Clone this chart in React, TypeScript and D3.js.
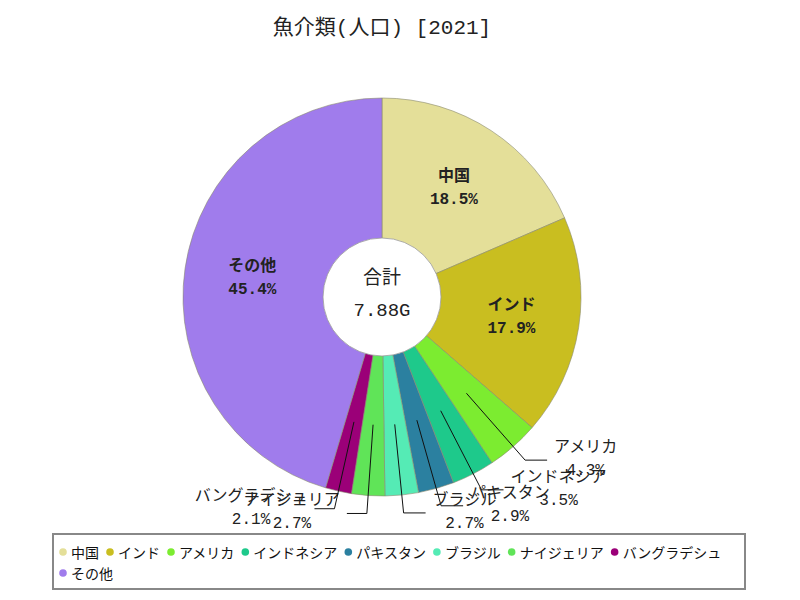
import React, { useEffect, useRef } from 'react';
import * as d3 from 'd3';

// 魚介類(人口) 2021 -- population in millions
const categories = ['中国', 'インド', 'アメリカ', 'インドネシア', 'パキスタン', 'ブラジル', 'ナイジェリア', 'バングラデシュ', 'その他'];
const populations = [1457, 1411, 337, 274, 229, 213, 212, 167, 3579];
const sliceColors = ['#e4df99', '#c9be20', '#7cec30', '#1ec98b', '#2b80a0', '#55ebb5', '#60e458', '#9b0078', '#a07cec'];
const titleText = '魚介類(人口) [2021]';
const totalLabel = '合計';

const W = 800;
const H = 600;
const cx = 382;
const cy = 297;
const outerR = 199;
const innerR = 59;

const monoJP = "'Liberation Mono', 'Noto Sans CJK JP', monospace";
const sansJP = "'Noto Sans CJK JP', sans-serif";

type Row = { name: string; value: number; color: string };

const rows: Row[] = categories.map((c, i) => ({ name: c, value: populations[i], color: sliceColors[i] }));

function pt(angle: number, r: number): [number, number] {
  return [r * Math.sin(angle), -r * Math.cos(angle)];
}

export default function App() {
  const ref = useRef<SVGSVGElement>(null);

  useEffect(() => {
    const svg = d3.select(ref.current);
    svg.selectAll('*').remove();

    const total = d3.sum(populations);
    const pct = (v: number) => d3.format('.1f')((v / total) * 100) + '%';

    // title
    svg.append('text')
      .attr('x', cx).attr('y', 28)
      .attr('text-anchor', 'middle').attr('dominant-baseline', 'central')
      .style('font-family', monoJP).style('font-size', '21px').attr('fill', '#222')
      .text(titleText);

    const pie = d3.pie<Row>().sort(null).value(d => d.value);
    const arcs = pie(rows);
    const arc = d3.arc<d3.PieArcDatum<Row>>().innerRadius(0).outerRadius(outerR);

    const g = svg.append('g').attr('transform', `translate(${cx},${cy})`);

    g.selectAll('path.slice')
      .data(arcs)
      .join('path')
      .attr('class', 'slice')
      .attr('d', arc)
      .attr('fill', d => d.data.color)
      .attr('stroke', '#8a8a70')
      .attr('stroke-width', 0.6);

    // labels
    arcs.forEach(a => {
      const mid = (a.startAngle + a.endAngle) / 2;
      const share = a.data.value / total;
      if (share >= 0.1) {
        const [x, y] = pt(mid, 131);
        const t = g.append('text')
          .attr('text-anchor', 'middle')
          .style('font-family', monoJP).style('font-size', '16px').style('font-weight', 'bold')
          .attr('fill', '#222');
        t.append('tspan').attr('x', x).attr('y', y - 11).attr('dominant-baseline', 'central').text(a.data.name);
        t.append('tspan').attr('x', x).attr('y', y + 12).attr('dominant-baseline', 'central').text(pct(a.data.value));
      } else {
        const [x0, y0] = pt(mid, 128);
        const [x1, y1] = pt(mid, 217);
        const right = mid < Math.PI;
        const x2 = x1 + (right ? 22 : -20);
        g.append('polyline')
          .attr('points', `${x0},${y0} ${x1},${y1} ${x2},${y1}`)
          .attr('fill', 'none').attr('stroke', '#111').attr('stroke-width', 1);
        const lab = g.append('g');
        const t1 = lab.append('text')
          .attr('text-anchor', 'middle').attr('dominant-baseline', 'central')
          .attr('y', y1 - 12)
          .style('font-family', monoJP).style('font-size', '16px').attr('fill', '#222')
          .text(a.data.name);
        const t2 = lab.append('text')
          .attr('text-anchor', 'middle').attr('dominant-baseline', 'central')
          .attr('y', y1 + 11)
          .style('font-family', monoJP).style('font-size', '16px').attr('fill', '#222')
          .text(pct(a.data.value));
        const w = Math.max((t1.node() as SVGTextElement).getComputedTextLength(), (t2.node() as SVGTextElement).getComputedTextLength());
        const tx = right ? x2 + 7 + w / 2 : x2 - 7 - w / 2;
        t1.attr('x', tx);
        t2.attr('x', tx);
      }
    });

    // hole
    g.append('circle').attr('r', innerR).attr('fill', '#fff').attr('stroke', '#999').attr('stroke-width', 0.8);
    g.append('text').attr('y', -18).attr('text-anchor', 'middle').attr('dominant-baseline', 'central')
      .style('font-family', monoJP).style('font-size', '19px').attr('fill', '#222').text(totalLabel);
    g.append('text').attr('y', 14).attr('text-anchor', 'middle').attr('dominant-baseline', 'central')
      .style('font-family', monoJP).style('font-size', '19px').attr('fill', '#222')
      .text(d3.format('.3s')(total * 1e6));

    // legend
    const lx = 53, ly = 534, lw = 692, lh = 55;
    svg.append('rect').attr('x', lx).attr('y', ly).attr('width', lw).attr('height', lh)
      .attr('fill', '#fff').attr('stroke', '#888').attr('stroke-width', 2);
    let mx = lx + 10;
    let my = 552;
    rows.forEach(r => {
      const item = svg.append('g');
      const txt = item.append('text')
        .attr('dominant-baseline', 'central')
        .style('font-family', sansJP).style('font-size', '14px').attr('fill', '#111')
        .text(r.name);
      const tw = (txt.node() as SVGTextElement).getComputedTextLength();
      if (mx + 9 + tw > lx + lw - 6) {
        mx = lx + 10;
        my += 21;
      }
      item.append('circle').attr('cx', mx).attr('cy', my).attr('r', 3.8).attr('fill', r.color);
      txt.attr('x', mx + 8).attr('y', my);
      mx += 8 + tw + 11;
    });
  }, []);

  return (
    <svg ref={ref} width={W} height={H} style={{ position: 'absolute', left: 0, top: 0, background: '#fff' }} />
  );
}
